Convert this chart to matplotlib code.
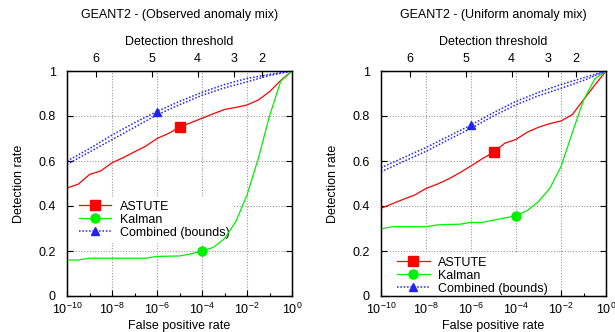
import math
import numpy as np
import matplotlib
matplotlib.use("Agg")
import matplotlib.pyplot as plt
from matplotlib.lines import Line2D
from matplotlib.ticker import FixedLocator, NullFormatter, LogFormatterSciNotation

plt.rcParams['font.family'] = ['Liberation Sans', 'DejaVu Sans']
plt.rcParams['mathtext.fontset'] = 'custom'
plt.rcParams['mathtext.rm'] = 'Liberation Sans'
plt.rcParams['mathtext.it'] = 'Liberation Sans:italic'
plt.rcParams['mathtext.bf'] = 'Liberation Sans:bold'

# ---- data (false positive rate exponents, detection rates) ----
log_fpr = [-10, -9.5, -9, -8.5, -8, -7.5, -7, -6.5, -6, -5.5, -5,
           -4.5, -4, -3.5, -3, -2.5, -2, -1.5, -1, -0.5, 0]
log_fpr_comb = [-10, -9, -8, -7, -6, -5, -4, -3, -2, -1, 0]

obs_astute = [0.48, 0.497, 0.54, 0.556, 0.592, 0.615, 0.641, 0.666, 0.70, 0.722, 0.75,
              0.77, 0.79, 0.81, 0.829, 0.838, 0.849, 0.871, 0.908, 0.958, 1.0]
obs_kalman = [0.16, 0.16, 0.168, 0.168, 0.168, 0.168, 0.168, 0.168, 0.176, 0.177, 0.178,
              0.187, 0.2, 0.216, 0.255, 0.33, 0.449, 0.61, 0.80, 0.955, 1.0]
obs_comb_hi = [0.60, 0.655, 0.715, 0.77, 0.82, 0.865, 0.905, 0.94, 0.967, 0.985, 1.0]
obs_comb_lo = [0.585, 0.64, 0.695, 0.75, 0.805, 0.85, 0.892, 0.925, 0.952, 0.98, 1.0]

uni_astute = [0.39, 0.41, 0.43, 0.449, 0.478, 0.497, 0.52, 0.548, 0.578, 0.61, 0.639,
              0.679, 0.696, 0.728, 0.75, 0.766, 0.778, 0.806, 0.872, 0.937, 1.0]
uni_kalman = [0.298, 0.308, 0.308, 0.308, 0.308, 0.316, 0.318, 0.319, 0.327, 0.327, 0.337,
              0.347, 0.357, 0.38, 0.42, 0.478, 0.575, 0.725, 0.87, 0.965, 1.0]
uni_comb_hi = [0.57, 0.615, 0.66, 0.71, 0.76, 0.815, 0.865, 0.905, 0.94, 0.97, 1.0]
uni_comb_lo = [0.552, 0.598, 0.643, 0.695, 0.745, 0.80, 0.85, 0.89, 0.923, 0.958, 1.0]

thresholds = [6, 5, 4, 3, 2]
titles = ["GEANT2 - (Observed anomaly mix)", "GEANT2 - (Uniform anomaly mix)"]
series_names = ["ASTUTE", "Kalman", "Combined (bounds)"]

# marker positions (fpr exponents)
astute_mark = -5
kalman_mark = -4
comb_mark = -6

FS = 9
RED = '#ff0000'
GREEN = '#00f000'
BLUE = '#2222ff'

fig = plt.figure(figsize=(6.15, 3.32), dpi=100)
axes_pos = [[67 / 615, 36 / 332, 225 / 615, 225 / 332],
            [381 / 615, 36 / 332, 225 / 615, 225 / 332]]
legend_anchor = [(0.035, 0.44), (0.055, 0.192)]

datasets = [(obs_astute, obs_kalman, obs_comb_hi, obs_comb_lo),
            (uni_astute, uni_kalman, uni_comb_hi, uni_comb_lo)]

x = 10.0 ** np.array(log_fpr)
xc = 10.0 ** np.array(log_fpr_comb)

for i, (ast, kal, chi, clo) in enumerate(datasets):
    ax = fig.add_axes(axes_pos[i])
    ax.set_xscale('log')
    ax.set_xlim(1e-10, 1)
    ax.set_ylim(0, 1)

    # grid
    for gx in [1e-8, 1e-6, 1e-4, 1e-2]:
        ax.axvline(gx, color='#999999', lw=0.8, ls=(0, (1, 1.5)), zorder=0)
    for gy in [0.2, 0.4, 0.6, 0.8]:
        ax.axhline(gy, color='#999999', lw=0.8, ls=(0, (1, 1.5)), zorder=0)

    ax.plot(x, ast, color=RED, lw=0.9, marker='s', ms=6.5,
            markevery=[log_fpr.index(astute_mark)], zorder=3)
    ax.plot(x, kal, color=GREEN, lw=0.9, marker='o', ms=6.5,
            markevery=[log_fpr.index(kalman_mark)], zorder=3)
    ax.plot(xc, chi, color=BLUE, lw=1.1, ls=(0, (1, 1.2)), marker='^', ms=6,
            markevery=[log_fpr_comb.index(comb_mark)], zorder=3)
    ax.plot(xc, clo, color=BLUE, lw=1.1, ls=(0, (1, 1.2)), zorder=3)

    ax.xaxis.set_major_locator(FixedLocator([1e-10, 1e-8, 1e-6, 1e-4, 1e-2, 1]))
    ax.xaxis.set_major_formatter(LogFormatterSciNotation())
    ax.xaxis.set_minor_locator(FixedLocator([1e-9, 1e-7, 1e-5, 1e-3, 1e-1]))
    ax.xaxis.set_minor_formatter(NullFormatter())
    ax.set_yticks([0, 0.2, 0.4, 0.6, 0.8, 1.0])
    ax.set_yticklabels(['0', '0.2', '0.4', '0.6', '0.8', '1'])
    ax.tick_params(axis='both', which='major', direction='in', length=4, width=0.8,
                   labelsize=FS, right=True, top=False)
    ax.tick_params(axis='x', which='minor', direction='in', length=2.5, width=0.8, top=False)
    ax.tick_params(axis='x', which='major', pad=4)
    ax.tick_params(axis='y', which='major', pad=8)
    for s in ax.spines.values():
        s.set_linewidth(1.0)

    ax.set_xlabel("False positive rate", fontsize=FS, labelpad=2)
    ax.set_ylabel("Detection rate", fontsize=FS, labelpad=10)

    # top axis: detection threshold
    top = ax.twiny()
    top.set_xscale('log')
    top.set_xlim(1e-10, 1)
    tpos = [math.erfc(t / math.sqrt(2)) for t in thresholds]
    top.xaxis.set_major_locator(FixedLocator(tpos))
    top.xaxis.set_minor_locator(FixedLocator([]))
    top.set_xticklabels([str(t) for t in thresholds])
    top.tick_params(axis='x', which='major', direction='in', length=4, width=0.8,
                    labelsize=FS, pad=4)
    top.set_xlabel("Detection threshold", fontsize=FS, labelpad=6)
    top.set_title(titles[i], fontsize=FS, pad=13)

    handles = [
        Line2D([], [], color=RED, lw=0.9, marker='s', ms=6.5),
        Line2D([], [], color=GREEN, lw=0.9, marker='o', ms=6.5),
        Line2D([], [], color=BLUE, lw=1.1, ls=(0, (1, 1.2)), marker='^', ms=6),
    ]
    leg = ax.legend(handles, series_names, loc='upper left', bbox_to_anchor=legend_anchor[i],
                    fontsize=FS, frameon=True, framealpha=1, edgecolor='none',
                    facecolor='white', handlelength=2.6, handletextpad=0.7,
                    labelspacing=0.08, borderpad=0.3, borderaxespad=0, fancybox=False)
    leg.set_zorder(2)

fig.savefig("out.png", dpi=100)
